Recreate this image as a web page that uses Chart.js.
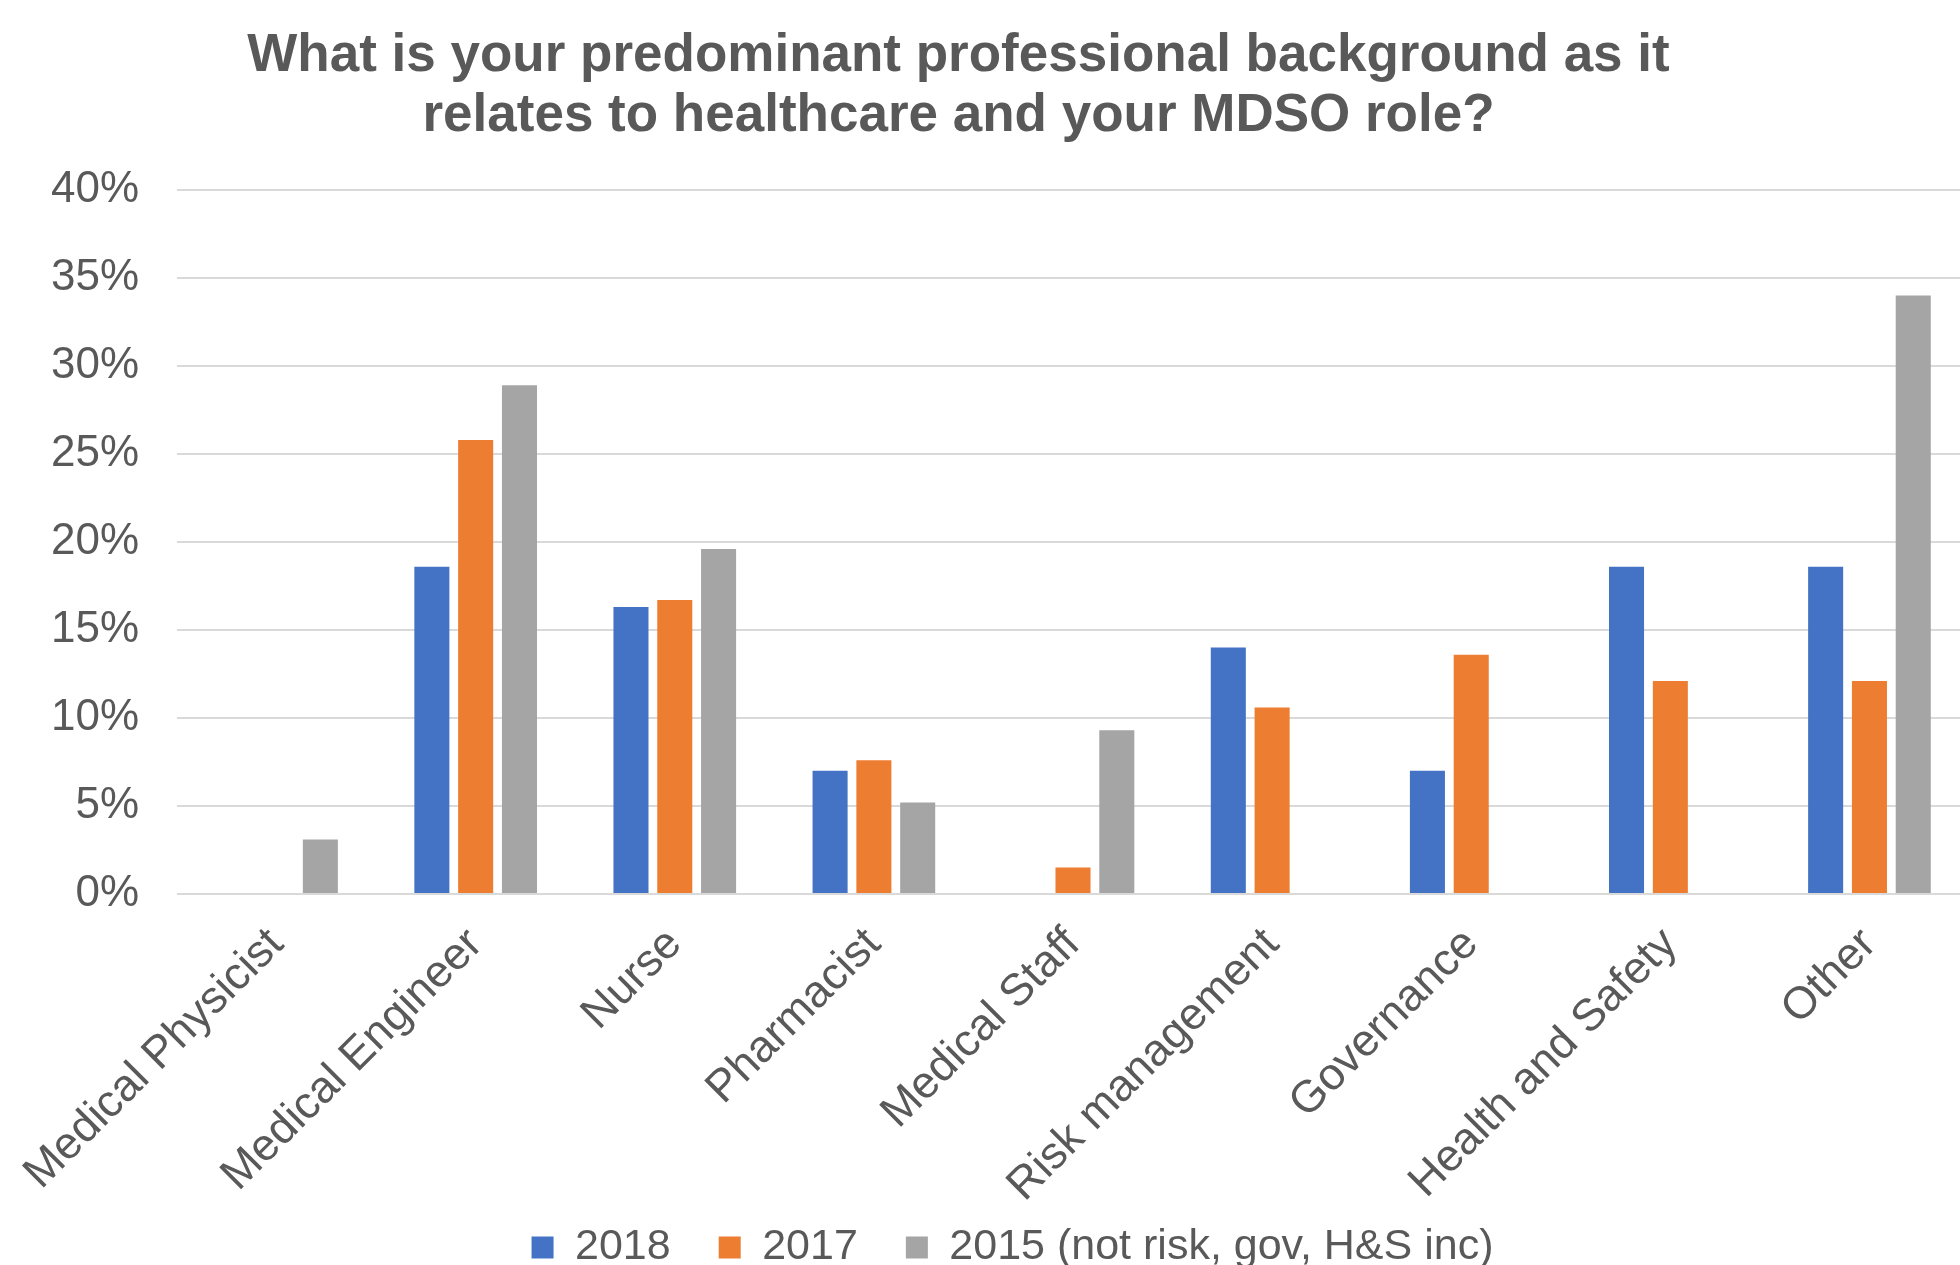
<!DOCTYPE html>
<html>
<head>
<meta charset="utf-8">
<script src="https://cdn.jsdelivr.net/npm/chart.js@4/dist/chart.umd.min.js"></script>
<style>
  html, body { margin: 0; padding: 0; background: #ffffff; overflow: hidden; }
  #wrap { width: 1960px; height: 1265px; overflow: hidden; }
</style>
</head>
<body>
<div id="wrap"><canvas id="c" width="1969" height="1265"></canvas></div>
<script>
const titleLines = ['What is your predominant professional background as it', 'relates to healthcare and your MDSO role?'];
const categories = ['Medical Physicist', 'Medical Engineer', 'Nurse', 'Pharmacist', 'Medical Staff', 'Risk management', 'Governance', 'Health and Safety', 'Other'];
const seriesNames = ['2018', '2017', '2015 (not risk, gov, H&S inc)'];
const values2018 = [0, 18.6, 16.3, 7.0, 0, 14.0, 7.0, 18.6, 18.6];
const values2017 = [0, 25.8, 16.7, 7.6, 1.5, 10.6, 13.6, 12.1, 12.1];
const values2015 = [3.1, 28.9, 19.6, 5.2, 9.3, null, null, null, 34.0];
const yTicks = [0, 5, 10, 15, 20, 25, 30, 35, 40];
const colors = ['#4472C4', '#ED7D31', '#A5A5A5'];

const FONT = '"Liberation Sans", Arial, Helvetica, sans-serif';
const TXT = '#595959';

// layout tweaks: move the legend up into the space under the rotated labels,
// and nudge the title / legend horizontally (as in the original slide)
const layoutTweak = {
  id: 'layoutTweak',
  afterLayout(chart) {
    const lg = chart.legend;
    if (lg) {
      const d = (chart.chartArea.bottom + 284) - lg.top;
      lg.top += d; lg.bottom += d;
      lg.left += 28; lg.right += 28;
    }
    const tb = chart.titleBlock;
    if (tb) { tb.left -= 26; tb.right -= 26; }
  }
};

const ctx = document.getElementById('c').getContext('2d');
new Chart(ctx, {
  type: 'bar',
  data: {
    labels: categories,
    datasets: [values2018, values2017, values2015].map((d, i) => ({
      label: seriesNames[i],
      data: d,
      backgroundColor: colors[i],
      borderWidth: 0,
      categoryPercentage: 0.66,
      barPercentage: 0.8
    }))
  },
  plugins: [layoutTweak],
  options: {
    responsive: false,
    devicePixelRatio: 1,
    animation: false,
    layout: { padding: { top: 0, left: 0, right: 0, bottom: -50 } },
    plugins: {
      title: {
        display: true,
        text: titleLines,
        color: TXT,
        font: { family: FONT, size: 53, weight: 'bold', lineHeight: 1.132 },
        padding: { top: 26, bottom: 44 }
      },
      legend: {
        position: 'bottom',
        labels: {
          color: TXT,
          font: { family: FONT, size: 43 },
          boxWidth: 22,
          boxHeight: 22,
          padding: 48
        }
      },
      tooltip: { enabled: false }
    },
    scales: {
      x: {
        grid: { display: false },
        border: { display: false },
        ticks: {
          color: TXT,
          font: { family: FONT, size: 45 },
          minRotation: 45,
          maxRotation: 45,
          autoSkip: false,
          padding: 16
        },
        afterFit: (s) => { s.height = 320; }
      },
      y: {
        min: 0,
        max: 40,
        border: { display: false },
        grid: { color: '#D9D9D9', lineWidth: 2, drawTicks: false },
        afterBuildTicks: (s) => { s.ticks = yTicks.map(v => ({ value: v })); },
        afterFit: (s) => { s.width = 177; },
        ticks: {
          color: TXT,
          font: { family: FONT, size: 44 },
          padding: 38,
          callback: (v) => v + '%'
        }
      }
    }
  }
});
</script>
</body>
</html>
